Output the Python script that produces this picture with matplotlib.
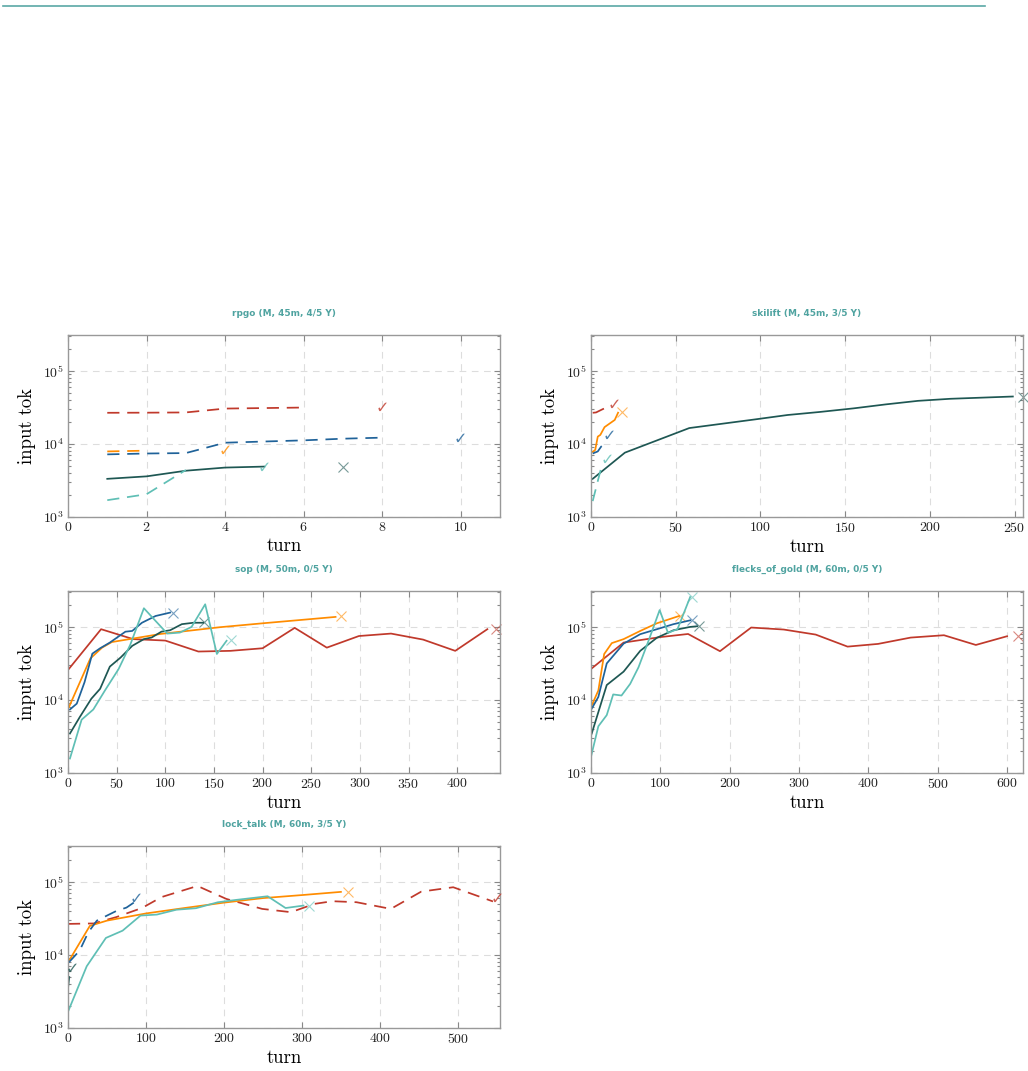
import matplotlib
matplotlib.use('Agg')
import matplotlib.pyplot as plt
from matplotlib.lines import Line2D
from matplotlib.ticker import MultipleLocator, LogLocator, NullFormatter

plt.rcParams['font.family'] = ['cmr10', 'DejaVu Serif']
plt.rcParams['mathtext.fontset'] = 'cm'
plt.rcParams['axes.formatter.use_mathtext'] = True

# model colours (red, orange, blue, dark teal, light teal)
c_red = '#C0392B'
c_orange = '#FF8C00'
c_blue = '#1F6299'
c_dkteal = '#1E5753'
c_ltteal = '#5FBFB5'
c_title = '#4FA3A0'

'''
=-=-=-=-=
 data
=-=-=-=-=
'''
# rpgo (M, 45m, 4/5 Y)
rpgo_red_x = [1, 2, 3, 4, 5, 6]
rpgo_red_y = [26700, 26800, 27000, 30500, 31000, 31500]
rpgo_red_end = (8, 31000)
rpgo_orange_x = [1, 2]
rpgo_orange_y = [7900, 8100]
rpgo_orange_end = (4, 7900)
rpgo_blue_x = [1, 2, 3, 4, 5, 6, 7, 8]
rpgo_blue_y = [7200, 7400, 7500, 10400, 10800, 11200, 11800, 12200]
rpgo_blue_end = (10, 11500)
rpgo_dkteal_x = [1, 2, 3, 4, 5]
rpgo_dkteal_y = [3330, 3600, 4300, 4750, 4900]
rpgo_dkteal_end = (7, 4800)
rpgo_ltteal_x = [1, 2, 3]
rpgo_ltteal_y = [1700, 2050, 4400]
rpgo_ltteal_end = (5, 4700)
rpgo_solved = [True, True, True, False, True]

# skilift (M, 45m, 3/5 Y)
ski_red_x = [1, 3, 7, 10]
ski_red_y = [26700, 27000, 30000, 32000]
ski_red_end = (13.5, 34000)
ski_orange_x = [1, 2.5, 4, 5.5, 8, 14, 16]
ski_orange_y = [7800, 8300, 12600, 13300, 17000, 21300, 26800]
ski_orange_end = (18.5, 27700)
ski_blue_x = [1, 4, 6, 8]
ski_blue_y = [7400, 7900, 9200, 9900]
ski_blue_end = (10.5, 12600)
ski_dkteal_x = [1, 20, 58, 97, 116, 135, 155, 174, 193, 212, 249]
ski_dkteal_y = [3330, 7600, 16500, 21700, 24900, 27400, 30700, 34800, 38900, 41500, 44600]
ski_dkteal_end = (255, 44600)
ski_ltteal_x = [1, 4, 6, 7]
ski_ltteal_y = [1650, 3100, 4700, 5300]
ski_ltteal_end = (9.5, 5900)
ski_solved = [True, False, True, False, True]

# sop (M, 50m, 0/5 Y)
sop_red_x = [1, 34, 67, 100, 134, 167, 200, 233, 266, 299, 332, 365, 398, 431]
sop_red_y = [26700, 93000, 68000, 65000, 46000, 47000, 51000, 97000, 52000, 75000, 81000, 67000, 47000, 93000]
sop_red_end = (440, 93000)
sop_orange_x = [1, 23, 35, 45, 95, 156, 200, 275]
sop_orange_y = [8000, 37000, 52000, 62000, 80000, 99000, 112000, 137000]
sop_orange_end = (281, 139000)
sop_blue_x = [2, 9, 17, 25, 33, 43, 59, 66, 76, 90, 105]
sop_blue_y = [7400, 8900, 17500, 43000, 51000, 61000, 86000, 88000, 114000, 141000, 157000]
sop_blue_end = (108, 157000)
sop_dkteal_x = [2, 12, 24, 33, 43, 54, 66, 78, 86, 96, 105, 117, 129, 139]
sop_dkteal_y = [3470, 5800, 10400, 14200, 28600, 38000, 55000, 68000, 71600, 86000, 90000, 109000, 114000, 114000]
sop_dkteal_end = (140, 115000)
sop_ltteal_x = [2, 14, 26, 38, 52, 64, 78, 102, 115, 127, 141, 153, 163]
sop_ltteal_y = [1580, 5370, 7400, 13500, 26500, 57000, 180000, 81000, 83600, 100000, 204000, 42600, 64600]
sop_ltteal_end = (168, 66000)
sop_solved = [False, False, False, False, False]

# flecks_of_gold (M, 60m, 0/5 Y)
fog_red_x = [1, 47, 100, 140, 186, 231, 278, 324, 370, 414, 461, 509, 555, 600]
fog_red_y = [27000, 61000, 72500, 80000, 46500, 98000, 92000, 78500, 53700, 58500, 71400, 76900, 56600, 74500]
fog_red_end = (616, 75000)
fog_orange_x = [1, 10.6, 19, 30, 47, 71, 95, 127]
fog_orange_y = [8400, 13500, 42500, 60000, 68000, 88000, 112000, 141000]
fog_orange_end = (129, 143000)
fog_blue_x = [1, 10.6, 22.7, 47, 71, 95, 119, 143]
fog_blue_y = [7600, 11000, 31600, 59000, 79500, 93000, 109000, 123000]
fog_blue_end = (146, 124000)
fog_dkteal_x = [1, 22.7, 47, 71, 95, 119, 143, 153]
fog_dkteal_y = [3460, 16000, 24400, 47000, 71000, 90000, 100000, 102000]
fog_dkteal_end = (156, 102000)
fog_ltteal_x = [0, 10.6, 22.7, 32, 44, 56.5, 68.5, 83, 99, 111, 124.7, 143]
fog_ltteal_y = [1670, 4360, 6200, 11900, 11500, 16600, 28000, 64600, 170000, 83000, 93000, 256000]
fog_ltteal_end = (146, 260000)
fog_solved = [False, False, False, False, False]

# lock_talk (M, 60m, 3/5 Y)
lt_red_x = [0, 33, 62, 95, 120, 166, 203, 249, 286, 316, 339, 370, 414, 453, 494, 545]
lt_red_y = [26600, 27000, 33000, 44000, 62000, 88000, 58500, 42700, 38500, 50000, 54400, 52700, 42700, 73600, 84500, 54000]
lt_red_end = (550, 57000)
lt_orange_x = [0, 28, 50, 100, 150, 200, 250, 300, 350]
lt_orange_y = [7900, 25000, 29500, 37000, 44000, 52000, 60000, 66000, 73000]
lt_orange_end = (359, 73000)
lt_blue_x = [1, 15, 26, 37, 50, 62, 75, 85]
lt_blue_y = [7900, 11500, 20400, 29500, 34600, 40000, 44500, 52600]
lt_blue_end = (88, 57000)
lt_dkteal_x = [0, 2]
lt_dkteal_y = [3500, 5500]
lt_dkteal_end = (5, 6300)
lt_ltteal_x = [0, 24, 48.6, 70, 93, 114, 139, 164, 192, 215, 256, 279, 302]
lt_ltteal_y = [1670, 7000, 17100, 21500, 34600, 35700, 41600, 43600, 52600, 56600, 63600, 43900, 47400]
lt_ltteal_end = (309, 47400)
lt_solved = [True, False, True, True, False]

colors = [c_red, c_orange, c_blue, c_dkteal, c_ltteal]

panels = [
    ('rpgo (M, 45m, 4/5 Y)', 11, 2,
     [(rpgo_red_x, rpgo_red_y, rpgo_red_end), (rpgo_orange_x, rpgo_orange_y, rpgo_orange_end),
      (rpgo_blue_x, rpgo_blue_y, rpgo_blue_end), (rpgo_dkteal_x, rpgo_dkteal_y, rpgo_dkteal_end),
      (rpgo_ltteal_x, rpgo_ltteal_y, rpgo_ltteal_end)], rpgo_solved),
    ('skilift (M, 45m, 3/5 Y)', 255, 50,
     [(ski_red_x, ski_red_y, ski_red_end), (ski_orange_x, ski_orange_y, ski_orange_end),
      (ski_blue_x, ski_blue_y, ski_blue_end), (ski_dkteal_x, ski_dkteal_y, ski_dkteal_end),
      (ski_ltteal_x, ski_ltteal_y, ski_ltteal_end)], ski_solved),
    ('sop (M, 50m, 0/5 Y)', 444, 50,
     [(sop_red_x, sop_red_y, sop_red_end), (sop_orange_x, sop_orange_y, sop_orange_end),
      (sop_blue_x, sop_blue_y, sop_blue_end), (sop_dkteal_x, sop_dkteal_y, sop_dkteal_end),
      (sop_ltteal_x, sop_ltteal_y, sop_ltteal_end)], sop_solved),
    ('flecks_of_gold (M, 60m, 0/5 Y)', 623, 100,
     [(fog_red_x, fog_red_y, fog_red_end), (fog_orange_x, fog_orange_y, fog_orange_end),
      (fog_blue_x, fog_blue_y, fog_blue_end), (fog_dkteal_x, fog_dkteal_y, fog_dkteal_end),
      (fog_ltteal_x, fog_ltteal_y, fog_ltteal_end)], fog_solved),
    ('lock_talk (M, 60m, 3/5 Y)', 554, 100,
     [(lt_red_x, lt_red_y, lt_red_end), (lt_orange_x, lt_orange_y, lt_orange_end),
      (lt_blue_x, lt_blue_y, lt_blue_end), (lt_dkteal_x, lt_dkteal_y, lt_dkteal_end),
      (lt_ltteal_x, lt_ltteal_y, lt_ltteal_end)], lt_solved),
]

'''
=-=-=-=-=
 figure
=-=-=-=-=
'''
W, H = 1028, 1071
fig = plt.figure(figsize=(W / 100, H / 100), dpi=100)
fig.add_artist(Line2D([3 / W, 985 / W], [1 - 6 / H, 1 - 6 / H], color='#5AA8A5', lw=1.2))

# axes boxes in pixels: (left, top)
boxes = [(68, 335), (591, 335), (68, 591), (591, 591), (68, 846)]
aw, ah = 432, 182

for (title, xmax, xstep, series, solved), (lx, ty) in zip(panels, boxes):
    ax = fig.add_axes([lx / W, 1 - (ty + ah) / H, aw / W, ah / H])
    for (x, y, end), col, ok in zip(series, colors, solved):
        ls = (0, (7, 4.5)) if ok else '-'
        ax.plot(x, y, color=col, lw=1.25, ls=ls)
        if ok:
            # solved: thin check mark at the end
            ax.text(end[0], end[1], '\u2713', family='DejaVu Sans', fontsize=11.5, color=col,
                    alpha=0.8, ha='center', va='center', clip_on=False)
        else:
            ax.plot([end[0]], [end[1]], marker='x', ms=6.5, mew=0.8, color=col, alpha=0.6,
                    ls='none', clip_on=False)

    ax.set_yscale('log')
    ax.set_ylim(1e3, 3.1e5)
    ax.set_xlim(0, xmax)
    ax.xaxis.set_major_locator(MultipleLocator(xstep))
    ax.yaxis.set_major_locator(LogLocator(base=10, numticks=10))
    ax.yaxis.set_minor_locator(LogLocator(base=10, subs=range(2, 10), numticks=10))
    ax.yaxis.set_minor_formatter(NullFormatter())
    ax.grid(True, which='major', color='#dddddd', lw=0.8, ls=(0, (6, 5)))
    ax.tick_params(which='both', direction='in', top=True, right=True, colors='#888888',
                   labelcolor='#222222', labelsize=10, width=0.8)
    ax.tick_params(which='major', length=4, pad=3)
    ax.tick_params(which='minor', length=2.5)
    for s in ax.spines.values():
        s.set_color('#999999')
        s.set_linewidth(1.0)
    ax.set_xlabel('turn', fontsize=13.5, labelpad=2)
    ax.set_ylabel('input tok', fontsize=13.5, labelpad=5)
    ax.set_title(title, fontsize=6.4, color=c_title, fontweight='bold',
                 family='DejaVu Sans', pad=14)

fig.savefig('out.png', dpi=100)
